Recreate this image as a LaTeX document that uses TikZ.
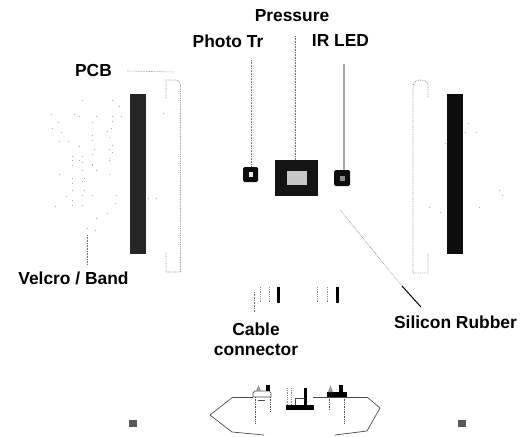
\documentclass[tikz,border=0pt]{standalone}
\usepackage{fontspec}
\setmainfont{Liberation Sans}
\usetikzlibrary{positioning, calc}
\tikzset{
    label/.style={font=\fontsize{17.4}{19}\selectfont\bfseries, inner sep=0pt, text=black},
    leader/.style={draw=black!55, line width=0.6pt, densely dotted},
    outline/.style={draw=black!45, line width=0.8pt, densely dotted},
    bar/.style={rectangle, fill=black!95, minimum width=16pt, minimum height=160pt, inner sep=0pt},
    sensor/.style={rectangle, rounded corners=1.5pt, fill=black!95, minimum width=15pt, minimum height=15pt, inner sep=0pt},
    core/.style={rectangle, fill=black!22, inner sep=0pt},
    pin/.style={rectangle, fill=black, inner sep=0pt},
    wire/.style={draw=black!70, line width=0.7pt},
    chip/.style={rectangle, fill=black!65, minimum width=8pt, minimum height=7pt, inner sep=0pt},
    specks/.style={fill=black!35}
}
\begin{document}
\begin{tikzpicture}[x=1pt, y=-1pt]
        \useasboundingbox (0,0) rectangle (521,436);
        % Labels
        \node (pressure) [label] at (292,16) {Pressure};
        \node (phototr) [label] at (228,41) {Photo Tr};
        \node (irled) [label] at (340.5,41) {IR LED};
        \node (pcb) [label] at (93.5,71) {PCB};
        \node (velcro) [label] at (73.5,278) {Velcro / Band};
        \node (rubber) [label] at (455.5,322) {Silicon Rubber};
        \node (cable) [label] at (256,329) {Cable};
        \node (connector) [label] at (256,350) {connector};
        
        % Bars
        \node (barl) [bar, fill=black!85] at (137.5,174) {};
        \node (barr) [bar] at (455,174) {};
        
        % Sensors
        \node (pt) [sensor] at (250.5,174.5) {};
        \node (ptcore) [core, minimum width=4pt, minimum height=5pt, fill=black!8] at (250.5,174.5) {};
        \node (pad) [rectangle, fill=black!92, minimum width=43pt, minimum height=36pt] at (296.5,178) {};
        \node (padcore) [core, minimum width=20pt, minimum height=14pt] at (297,178) {};
        \node (led) [sensor, minimum width=16pt, minimum height=16pt] at (342,178) {};
        \node (ledcore) [core, minimum width=5pt, minimum height=5pt, fill=black!45] at (342,178) {};
        
        % Rubber sheets
        \draw[outline] (166,98) -- (166,80) -- (176,80) to[out=0, in=90] (180.5,85) -- (180.5,272) -- (166,272) -- (166,252);
        \draw[outline] (428,97) -- (428,85) to[out=90, in=0] (421,80) to[out=180, in=90] (413,86) -- (413,273) -- (428,273) -- (428,252);
        
        % Leaders
        \coordinate (pcbend) at (174,72);
        \coordinate (pttop) at (251.5,60);
        \coordinate (padtop) at (295,36);
        \coordinate (ledtop) at (344,64);
        \coordinate (velcrotop) at (87,235);
        \coordinate (velcroend) at (87,265);
        \coordinate (rubbertop) at (340,210);
        \coordinate (rubbermid) at (402,286);
        \coordinate (rubberend) at (421,307);
        \draw[leader] (pcb.east) ++(15,0) -- (pcbend);
        \draw[leader] (pttop) -- (pttop |- pt.north);
        \draw[leader] (padtop) -- (padtop |- pad.north);
        \draw[draw=black!35, line width=1.5pt] (ledtop) -- (ledtop |- led.north);
        \draw[leader] (velcrotop) -- (velcroend);
        \draw[leader] (rubbertop) -- (rubbermid);
        \draw[black, line width=1pt] (rubbermid) -- (rubberend);
        
        % Velcro specks
        \foreach \x/\y in {82/100,112/100,119/106,51/114,74/114,79/116,96/116,112/116,121/116,58/122,112/121,52/128,61/132,92/122,107/131,111/128,59/141,68/141,92/135,109/137,79/146,92/140,112/145,92/154,94/149,109/149,112/152,72/156,82/156,72/160,79/160,109/158,92/165,72/165,82/162,92/164,109/160,59/174,109/174,82/170,96/170,72/178,84/178,82/181,72/183,72/190,66/196,84/190,82/195,72/205,82/205,116/195,92/195,55/206,115/203,72/200,107/213,96/218,87/228,95/230,148/198,156/198,163/113} {
            \fill[specks] (\x,\y) rectangle +(1,1);
        }
        \foreach \x/\y in {468/123,465/132,476/132,445/143,499/190,502/195,429/207,479/207,440/212} {
            \fill[specks] (\x,\y) rectangle +(1,1);
        }
        
        % Cable connector parts
        \node (plugl) [pin, minimum width=3pt, minimum height=16pt] at (278.5,295) {};
        \node (plugr) [pin, minimum width=3pt, minimum height=16pt] at (337.5,295) {};
        \coordinate (cabletop) at (254.5,292);
        \coordinate (cableend) at (254.5,312);
        \draw[leader] (cabletop) -- (cableend);
        \foreach \x in {260,269,317,327} {
            \draw[outline] (\x,287) -- (\x,303);
        }
        
        % Assembly
        \coordinate (boardla) at (233,397);
        \coordinate (boardlb) at (253,397);
        \coordinate (boardra) at (313,397);
        \coordinate (boardrb) at (367,397);
        \draw[wire, line width=1pt] (boardla) -- (boardlb);
        \draw[wire, line width=1pt] (boardra) -- (boardrb);
        \draw[wire] (boardla) -- (210,415) -- (232,432) -- (264,435);
        \draw[wire] (boardrb) -- (380,408) -- (367,431) -- (335,435);
        \draw[wire] (253,397) -- (253,393) -- (255,391) -- (269,391) -- (271,393) -- (271,397) -- (boardlb);
        \node (ptpin) [pin, minimum width=4pt, minimum height=6pt] at (268,388) {};
        \node (ledboard) [pin, minimum width=20pt, minimum height=5pt] at (337,394.5) {};
        \node (ledpin) [pin, minimum width=4pt, minimum height=7pt] at (341,388.5) {};
        \node (padboard) [pin, minimum width=28pt, minimum height=5pt] at (300,407.5) {};
        \node (padpin) [pin, minimum width=3pt, minimum height=17pt] at (305,396.5) {};
        \draw[wire] (295,405) -- (295,398) -- (305,398);
        \draw[wire] (258,400) -- (265,400);
        \draw[wire, densely dotted] (255.5,397) -- (255.5,424);
        \draw[wire, densely dotted] (270,397) -- (270,411);
        \draw[wire, densely dotted] (329.5,397) -- (329.5,410);
        \draw[wire, densely dotted] (344,397) -- (344,423);
        \draw[outline] (287,388) -- (287,405);
        \draw[outline] (291,388) -- (291,405);
        \fill[black!40] (256,391) -- (258.5,385) -- (261,391) -- cycle;
        \fill[black!40] (328,392) -- (330.5,385) -- (333,392) -- cycle;
        
        % Small chips
        \node (chipl) [chip] at (132.5,423.5) {};
        \node (chipr) [chip] at (462,423.5) {};
    \end{tikzpicture}
\end{document}
